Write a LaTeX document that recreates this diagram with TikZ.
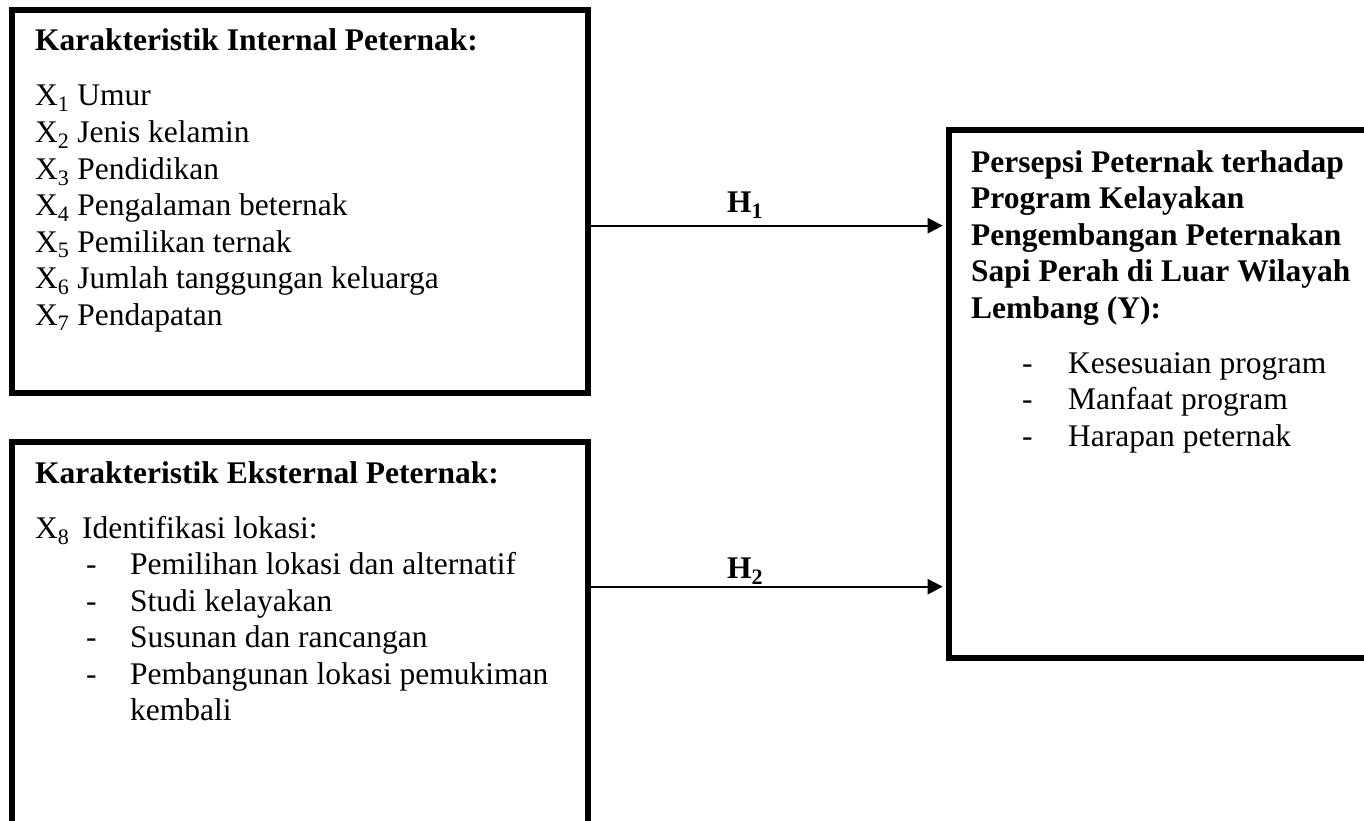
\documentclass[tikz,border=0pt]{standalone}
\usepackage{fontspec}
\setmainfont{Liberation Serif}
\usetikzlibrary{arrows.meta}
\begin{document}
\begin{tikzpicture}[x=1pt,y=-1pt,
  box/.style={draw,line width=6pt,inner sep=0pt},
  txt/.style={anchor=base west,inner sep=0pt,font=\fontsize{31.5}{36.5}\selectfont},
  ttl/.style={anchor=base west,inner sep=0pt,font=\fontsize{31.5}{36.5}\selectfont\bfseries},
  arr/.style={line width=2.3pt,-{Triangle[length=15pt,width=15pt]},shorten >=3pt}]
\useasboundingbox (0,0) rectangle (1364,821);
\clip (0,0) rectangle (1364,821);
% boxes
\node[box,minimum width=576pt,minimum height=383.3pt] (b1) at (300,201.35) {};
\node[box,minimum width=576pt,minimum height=428pt] (b2) at (300,656) {};
\node[box,minimum width=460pt,minimum height=527.8pt] (b3) at (1178.7,393.6) {};
% box 1 text
\node[ttl] (t1) at (35,50.7) {Karakteristik Internal Peternak:};
\node[txt] (x1) at (35,106) {X\textsubscript{1} Umur};
\node[txt] (x2) at (35,142.5) {X\textsubscript{2} Jenis kelamin};
\node[txt] (x3) at (35,179) {X\textsubscript{3} Pendidikan};
\node[txt] (x4) at (35,215.5) {X\textsubscript{4} Pengalaman beternak};
\node[txt] (x5) at (35,252) {X\textsubscript{5} Pemilikan ternak};
\node[txt] (x6) at (35,288.5) {X\textsubscript{6} Jumlah tanggungan keluarga};
\node[txt] (x7) at (35,325) {X\textsubscript{7} Pendapatan};
% box 2 text
\node[ttl] (t2) at (35,483) {Karakteristik Eksternal Peternak:};
\node[txt] (x8) at (35,538) {X\textsubscript{8}};
\node[txt] (x8t) at (82,538) {Identifikasi lokasi:};
\foreach \y/\s [count=\i] in {574.5/Pemilihan lokasi dan alternatif,611/Studi kelayakan,647.5/Susunan dan rancangan,684/Pembangunan lokasi pemukiman}{
  \node[txt] (d\i) at (86,\y) {-};
  \node[txt] (e\i) at (130,\y) {\s};
}
\node[txt] (e5) at (130,720.5) {kembali};
% box 3 text
\foreach \y/\s [count=\i] in {172/Persepsi Peternak terhadap,208.5/Program Kelayakan,245/Pengembangan Peternakan,281.5/Sapi Perah di Luar Wilayah,318/Lembang (Y):}{
  \node[ttl] (y\i) at (971,\y) {\s};
}
\foreach \y/\s [count=\i] in {373/Kesesuaian program,409.5/Manfaat program,446/Harapan peternak}{
  \node[txt] (f\i) at (1022,\y) {-};
  \node[txt] (g\i) at (1068,\y) {\s};
}
% connectors
\coordinate (r1) at (0,225.7);
\coordinate (r2) at (0,586.7);
\draw[arr] (r1 -| b1.east) -- (r1 -| b3.west);
\draw[arr] (r2 -| b2.east) -- (r2 -| b3.west);
\node[ttl] (h1) at (727,212.3) {H\textsubscript{1}};
\node[ttl] (h2) at (727,578.3) {H\textsubscript{2}};
\end{tikzpicture}
\end{document}
